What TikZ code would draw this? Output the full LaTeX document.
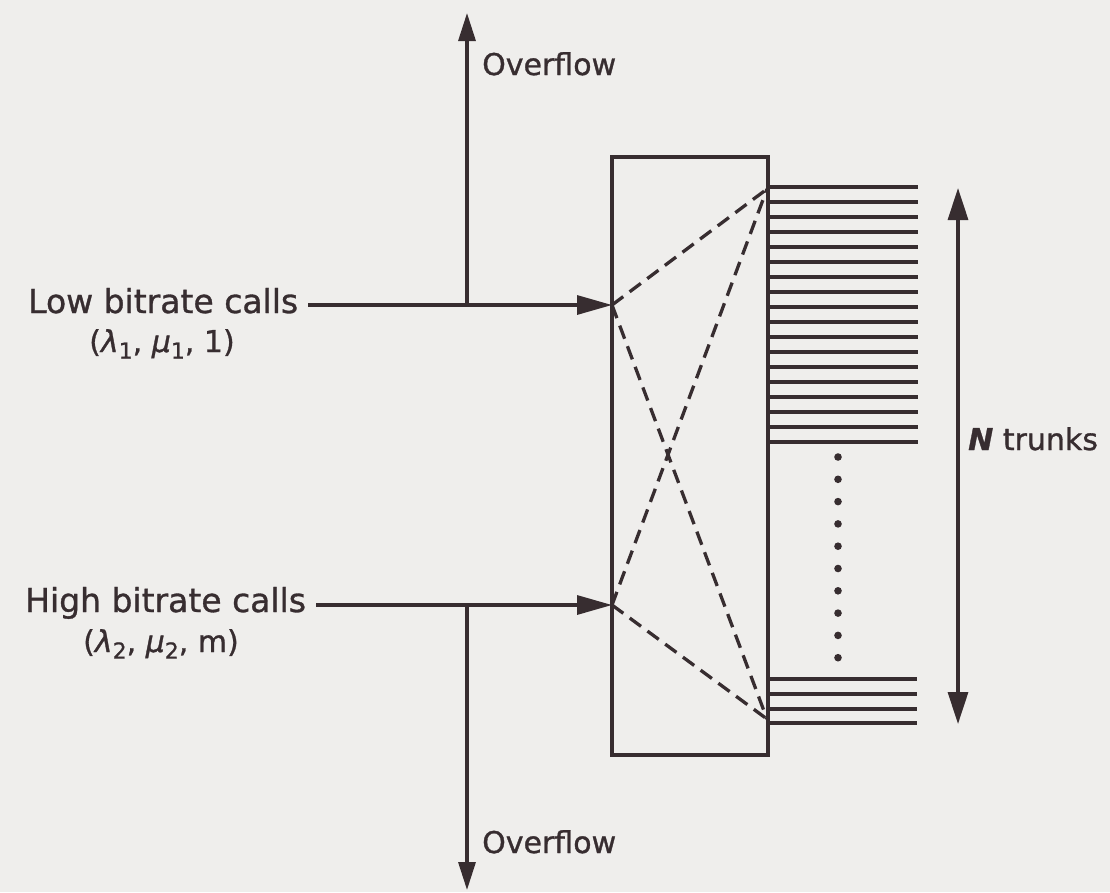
\documentclass[tikz,border=0pt]{standalone}
\usepackage{fontspec}
\setmainfont{DejaVu Sans}[FakeBold=1.0]
\usetikzlibrary{arrows.meta}
\definecolor{ink}{RGB}{55,45,48}
\definecolor{paper}{RGB}{239,238,236}
\newcommand\lowsub[1]{\raisebox{-0.22em}{\fontsize{22}{22}\selectfont #1}}
\begin{document}
\begin{tikzpicture}[x=1pt,y=-1pt,
  lbl/.style={text=ink, font=\fontsize{30}{36}\selectfont, inner sep=0pt},
  calllbl/.style={lbl, font=\fontsize{33}{38}\selectfont},
  flow/.style={draw=ink, line width=3.2pt},
  inarrow/.style={flow, -{Triangle[length=35pt,width=19pt]}},
  ovarrow/.style={flow, -{Triangle[length=28pt,width=17pt]}},
  nrange/.style={flow, {Triangle[length=32pt,width=20pt]}-{Triangle[length=32pt,width=20pt]}},
  trunk/.style={draw=ink, line width=3.3pt},
  link/.style={draw=ink, line width=3.3pt, dash pattern=on 14pt off 8pt},
  switchbox/.style={draw=ink, line width=4.8pt, minimum width=156pt, minimum height=598pt, inner sep=0pt}]
\fill[paper] (0,0) rectangle (1110,892);
\useasboundingbox (0,0) rectangle (1110,892);

% switch box
\node[switchbox] (sw) at (690,456) {};

% key points
\coordinate (lowin) at (612,305);
\coordinate (highin) at (612,605);
\coordinate (ttop) at (767,189);
\coordinate (tbot) at (767,719);
\coordinate (lowsplit) at (467,305);
\coordinate (highsplit) at (467,605);
\coordinate (ovtop) at (467,13);
\coordinate (ovbot) at (467,890);
\coordinate (ntop) at (958,188);
\coordinate (nbot) at (958,724);

% labels
\node[calllbl, anchor=base west] (lowlbl) at (28,313) {Low bitrate calls};
\node[lbl, anchor=base] (lowpar) at (162,352) {(\textit{λ}\lowsub{1}, \textit{μ}\lowsub{1}, 1)};
\node[calllbl, anchor=base west] (highlbl) at (25,612) {High bitrate calls};
\node[lbl, anchor=base] (highpar) at (161,652) {(\textit{λ}\lowsub{2}, \textit{μ}\lowsub{2}, m)};
\node[lbl, anchor=base west] (ovtoplbl) at (482,75) {Overflow};
\node[lbl, anchor=base west] (ovbotlbl) at (482,853) {Overflow};
\node[lbl, anchor=base west] (nlbl) at (968,450) {{\bfseries\itshape N} trunks};

% input arrows
\coordinate (lowstart) at ([xshift=10pt]lowlbl.base east |- lowin);
\coordinate (highstart) at ([xshift=10pt]highlbl.base east |- highin);
\draw[inarrow] (lowstart) -- (lowin);
\draw[inarrow] (highstart) -- (highin);

% overflow arrows
\draw[ovarrow] (lowsplit) -- (ovtop);
\draw[ovarrow] (highsplit) -- (ovbot);

% internal connections
\draw[link] (lowin) -- (ttop);
\draw[link] (lowin) -- (tbot);
\draw[link] (highin) -- (ttop);
\draw[link] (highin) -- (tbot);

% trunks
\foreach \i in {0,...,17}
  \draw[trunk] (sw.east |- 0,{187+15*\i}) -- (918,{187+15*\i});
\foreach \yy in {679,694,709,723}
  \draw[trunk] (sw.east |- 0,\yy) -- (917,\yy);
\foreach \i in {0,...,9}
  \fill[ink] (838,{457+22.3*\i}) circle (3.8pt);

% N range
\draw[nrange] (ntop) -- (nbot);
\end{tikzpicture}
\end{document}
